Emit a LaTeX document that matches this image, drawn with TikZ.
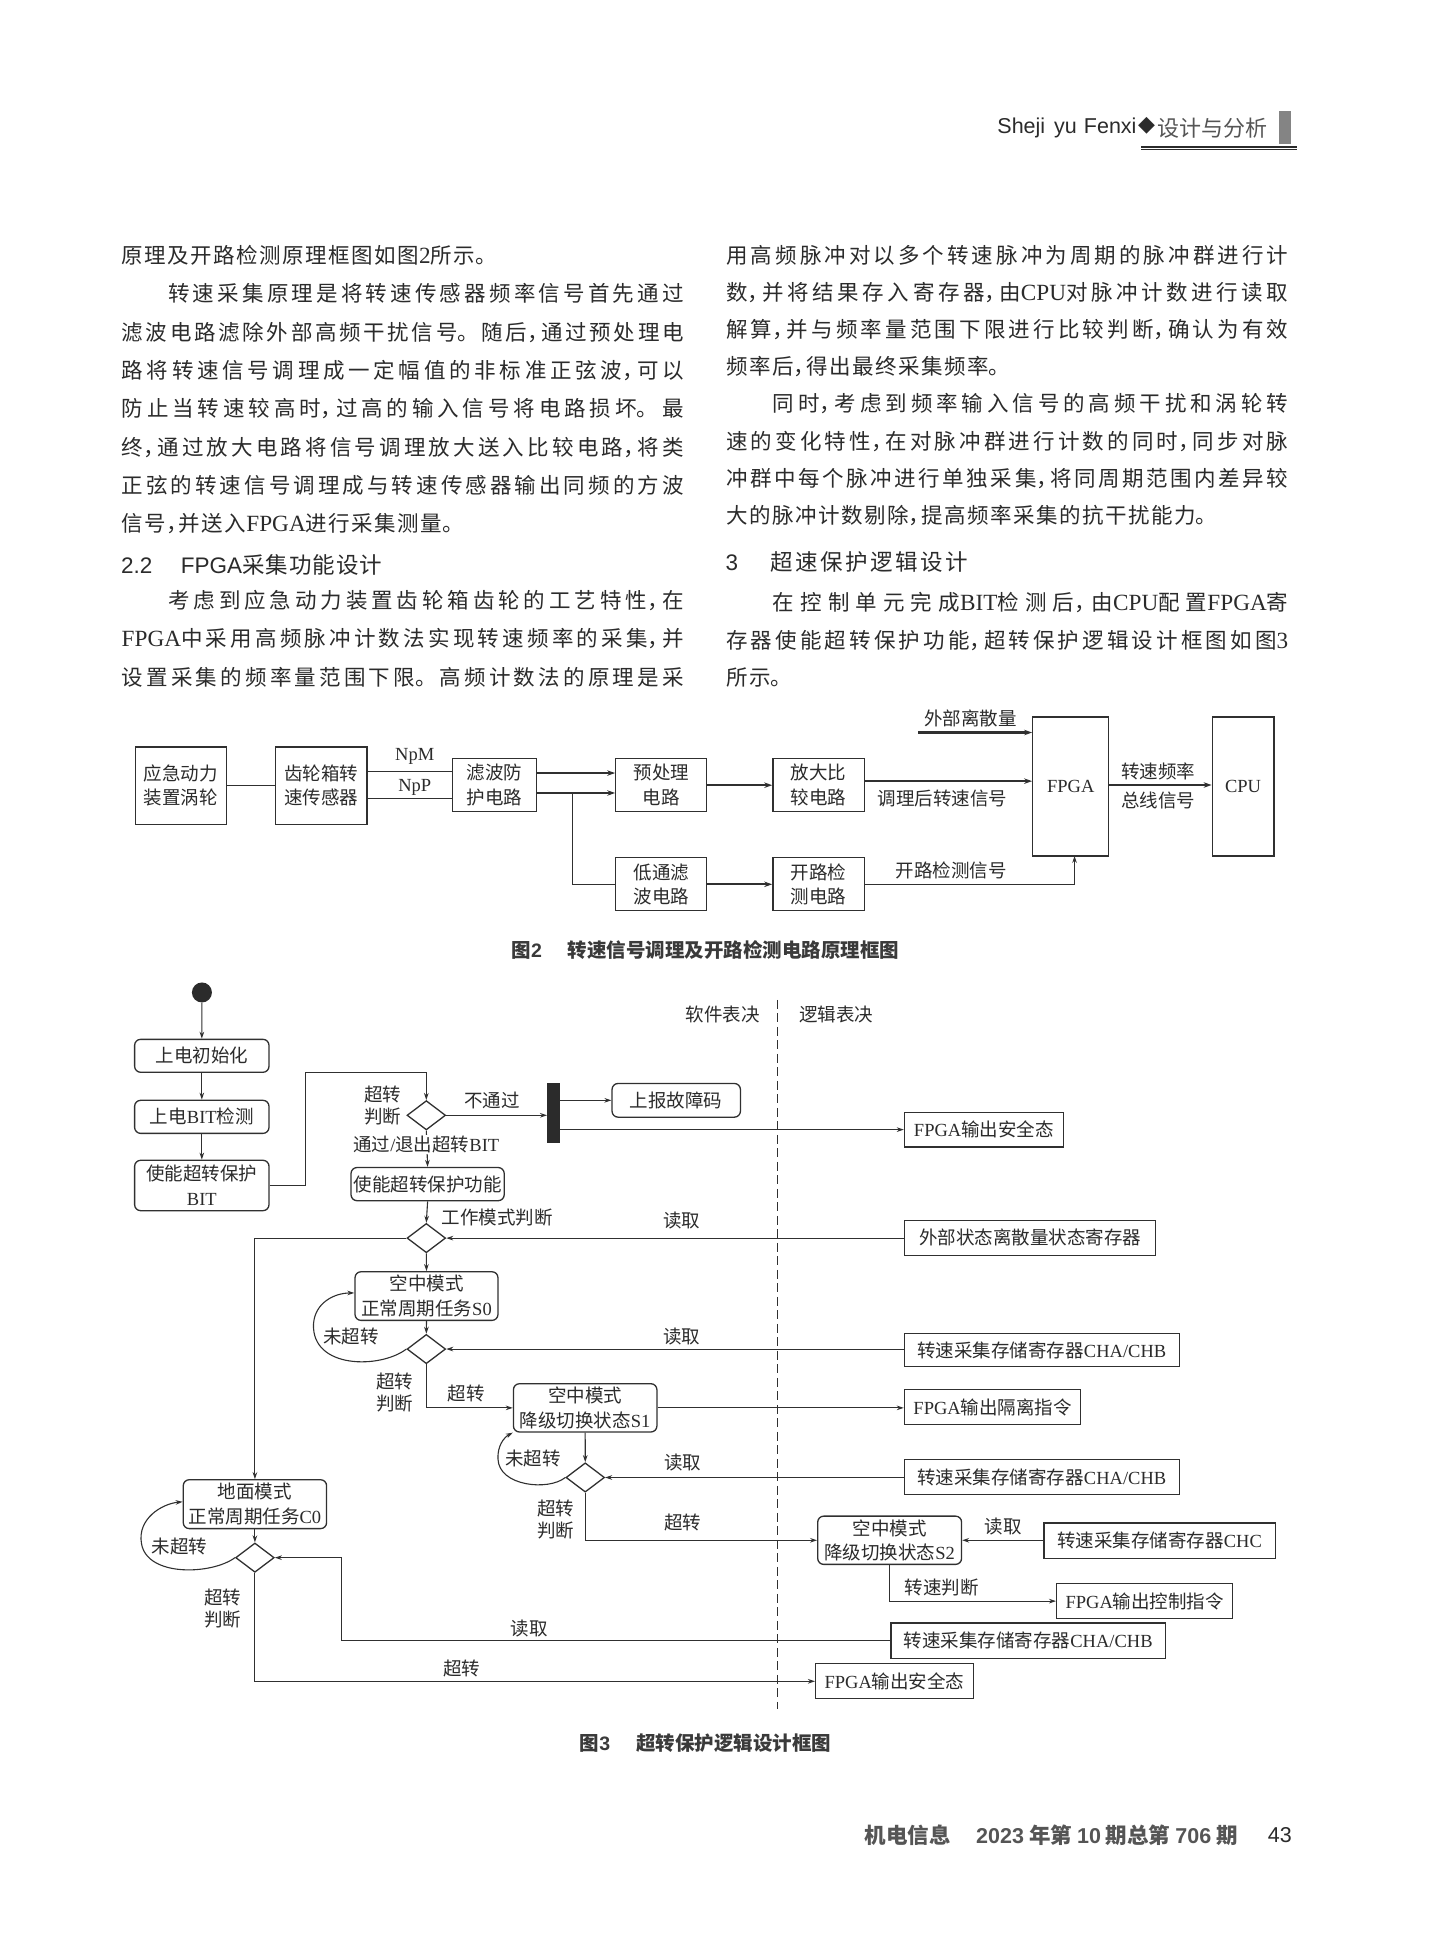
\documentclass[tikz,border=0pt]{standalone}
\usepackage{fontspec}
\setmainfont{Noto Sans CJK SC}
\newfontfamily\tnr{Liberation Serif}
\newfontfamily\tnrb{Liberation Serif}[Scale=1.08]
\newfontfamily\ars{Liberation Sans}
\newfontfamily\djv{DejaVu Sans}
\usetikzlibrary{arrows.meta,shapes.geometric}
\XeTeXlinebreaklocale "zh"
\XeTeXlinebreakskip=0pt\relax
\definecolor{txt}{HTML}{2B2B2B}
\definecolor{lnc}{HTML}{303030}
\definecolor{hdg}{HTML}{555555}
\definecolor{capc}{HTML}{3A3A3A}
\definecolor{barg}{HTML}{848484}

\newcommand\bodyfont{\fontsize{21.5}{26}\selectfont}
\newcommand\cm{\makebox[0.52em][l]{，}\hskip 1.5pt plus 12pt minus 1.5pt\relax}
\newcommand\jline[4]{%
  \node[anchor=base west, inner sep=0pt, text width=562pt, text=txt] (#1) at (#2,#3+6.6)
   {\bodyfont\XeTeXlinebreakskip=1.5pt plus 12pt minus 1.5pt\relax
    \leftskip=0pt\rightskip=0pt minus 20pt\relax\parfillskip=0pt\relax\parindent=0pt
    \tolerance=10000\hbadness=10000\noindent #4\par};}
\newcommand\nline[4]{%
  \node[anchor=base west, inner sep=0pt, text width=562pt, text=txt] (#1) at (#2,#3+6.6)
   {\bodyfont\XeTeXlinebreakskip=1.5pt\relax
    \leftskip=0pt\rightskip=0pt\parfillskip=0pt plus 1fil\relax\parindent=0pt
    \noindent #4\par};}
\newcommand\bx[7][sq]{%
  \node[#1, minimum width={(#5-#3)*1.24652pt}, minimum height={(#6-#4)*1.24681pt}]
    (#2) at ({(#3+#5)/2},{(#4+#6)/2}) {#7};}

\begin{document}
\begin{tikzpicture}[x=1.24652pt,y=-1.24681pt,
  dfont/.style={font=\fontsize{18.5}{24.5}\selectfont},
  sq/.style={draw=lnc, line width=1.3pt, dfont, text=txt, align=center, inner sep=0pt},
  rd/.style={sq, rounded corners=6pt},
  barst/.style={fill=txt, draw=none, inner sep=0pt},
  lab/.style={font=\fontsize{18.5}{22}\selectfont, text=txt, inner sep=1pt, align=center},
  ln1/.style={line width=1.1pt, draw=lnc},
  arr/.style={ln1, -{Stealth[length=7pt,width=4.6pt]}},
  tk/.style={line width=2.3pt, draw=lnc, -{Stealth[length=8pt,width=5.5pt]}},
  dia/.style={diamond, draw=lnc, line width=1.3pt, minimum width=38.6pt, minimum height=29.3pt, inner sep=0pt},
  dsh/.style={line width=1.1pt, draw=lnc, dash pattern=on 9pt off 4.5pt}
]
\fill[white] (0,0) rectangle (1148,1568);
\useasboundingbox (0,0) rectangle (1148,1568);

% ---------- header ----------
\node[anchor=base west, inner sep=0pt, text=txt] (hd1) at (800,107) {\ars\fontsize{21.5}{24}\selectfont Sheji\hspace{9pt}yu\hspace{7pt}Fenxi};
\node[inner sep=0pt, text=txt] (hd2) at (919.8,101) {\djv\fontsize{22}{24}\selectfont ◆};
\node[anchor=west, inner sep=0pt, text=hdg] (hd3) at (928.2,102.5) {\fontsize{22}{24}\selectfont 设计与分析};
\fill[barg] (1026,89) rectangle (1035.6,115.5);
\draw[line width=2.1pt, txt] (915.4,117.6) -- (1040.3,117.6);
\draw[line width=1pt, txt] (915.4,120.2) -- (1040.3,120.2);

% ---------- left column ----------
\nline{L1}{97.5}{204.6}{原理及开路检测原理框图如图{\tnrb 2}所示。}
\jline{L2}{97.5}{235.35}{\hspace*{46.5pt}转速采集原理是将转速传感器频率信号首先通过}
\jline{L3}{97.5}{266.1}{滤波电路滤除外部高频干扰信号。随后\cm 通过预处理电}
\jline{L4}{97.5}{296.85}{路将转速信号调理成一定幅值的非标准正弦波\cm 可以}
\jline{L5}{97.5}{327.6}{防止当转速较高时\cm 过高的输入信号将电路损坏。最}
\jline{L6}{97.5}{358.35}{终\cm 通过放大电路将信号调理放大送入比较电路\cm 将类}
\jline{L7}{97.5}{389.1}{正弦的转速信号调理成与转速传感器输出同频的方波}
\nline{L8}{97.5}{419.85}{信号\cm 并送入{\tnrb FPGA}进行采集测量。}
\node[anchor=base west, inner sep=0pt, text=txt] (h1a) at (97,453.3+6.8) {\ars\fontsize{22.5}{26}\selectfont 2.2};
\node[anchor=base west, inner sep=0pt, text=txt] (h1b) at (145,453.3+6.8) {\fontsize{22.5}{26}\selectfont{\ars FPGA}采\kern1pt 集\kern1pt 功\kern1pt 能\kern1pt 设\kern1pt 计};
\jline{L10}{97.5}{481.3}{\hspace*{46.5pt}考虑到应急动力装置齿轮箱齿轮的工艺特性\cm 在}
\jline{L11}{97.5}{512}{{\tnrb FPGA}中采用高频脉冲计数法实现转速频率的采集\cm 并}
\jline{L12}{97.5}{542.9}{设置采集的频率量范围下限。高频计数法的原理是采}

% ---------- right column ----------
\jline{R1}{582.5}{204.6}{用高频脉冲对以多个转速脉冲为周期的脉冲群进行计}
\jline{R2}{582.5}{234.4}{数\cm 并将结果存入寄存器\cm 由{\tnrb CPU}对脉冲计数进行读取}
\jline{R3}{582.5}{264.2}{解算\cm 并与频率量范围下限进行比较判断\cm 确认为有效}
\nline{R4}{582.5}{294}{频率后\cm 得出最终采集频率。}
\jline{R5}{582.5}{323.8}{\hspace*{46.5pt}同时\cm 考虑到频率输入信号的高频干扰和涡轮转}
\jline{R6}{582.5}{353.6}{速的变化特性\cm 在对脉冲群进行计数的同时\cm 同步对脉}
\jline{R7}{582.5}{383.4}{冲群中每个脉冲进行单独采集\cm 将同周期范围内差异较}
\nline{R8}{582.5}{413.2}{大的脉冲计数剔除\cm 提高频率采集的抗干扰能力。}
\node[anchor=base west, inner sep=0pt, text=txt] (h2a) at (582,450.6+6.8) {\ars\fontsize{22.5}{26}\selectfont 3};
\node[anchor=base west, inner sep=0pt, text=txt] (h2b) at (618,450.6+6.8) {\fontsize{22.5}{26}\selectfont 超\kern2.5pt 速\kern2.5pt 保\kern2.5pt 护\kern2.5pt 逻\kern2.5pt 辑\kern2.5pt 设\kern2.5pt 计};
\jline{R10}{582.5}{483}{\hspace*{46.5pt}在控制单元完成{\tnrb BIT}检测后\cm 由{\tnrb CPU}配置{\tnrb FPGA}寄}
\jline{R11}{582.5}{513.5}{存器使能超转保护功能\cm 超转保护逻辑设计框图如图{\tnrb 3}}
\nline{R12}{582.5}{543.5}{所示。}

% ---------- figure 2 ----------
\bx{b1}{108.5}{599}{181.5}{661}{应急动力\\装置涡轮}
\bx{b2}{221}{599}{294.5}{661}{齿轮箱转\\速传感器}
\bx{b3}{363}{608.5}{430.5}{651}{滤波防\\护电路}
\bx{b4}{494}{608.5}{567}{651}{预处理\\电路}
\bx{b5}{620}{608.5}{693.5}{651}{放大比\\较电路}
\bx{b6}{494}{688}{567}{730.5}{低通滤\\波电路}
\bx{b7}{620}{688}{693.5}{730.5}{开路检\\测电路}
\bx{fpga}{828.5}{575}{889.5}{686.5}{{\tnr FPGA}}
\bx{cpu}{972.5}{575}{1022}{686.5}{{\tnr CPU}}

\draw[ln1] (b1.east) -- (b2.west);
\draw[ln1] (b2.east |- 0,619) -- (b3.west |- 0,619);
\draw[ln1] (b2.east |- 0,640.5) -- (b3.west |- 0,640.5);
\draw[tk] (b3.east |- 0,620) -- (b4.west |- 0,620);
\draw[tk] (b3.east |- 0,636) -- (b4.west |- 0,636);
\coordinate (br) at (459.5,636);
\draw[ln1] (br) |- (b6.west);
\draw[tk] (b4.east) -- (b5.west);
\draw[tk] (b5.east |- 0,626.5) -- (fpga.west |- 0,626.5);
\coordinate (ext) at (736.5,587.5);
\draw[tk] (ext) -- (fpga.west |- ext);
\draw[tk] (fpga.east |- 0,629.6) -- (cpu.west |- 0,629.6);
\draw[tk] (b6.east) -- (b7.west);
\coordinate (fb) at (862,686.5);
\draw[arr] (b7.east) -| (fb);

\node[lab] (npm) at (332.7,607) {\tnr NpM};
\node[lab] (npp) at (332.7,631.6) {\tnr NpP};
\node[lab] (t1) at (756,640.5) {调理后转速信号};
\node[lab] (t2) at (778.5,576.3) {外部离散量};
\node[lab] (t3) at (763,698) {开路检测信号};
\node[lab] (t4) at (929,619) {转速频率};
\node[lab] (t5) at (929,642) {总线信号};
\node[text=capc, inner sep=0pt] (cap2) at (566,762) {\fontsize{19.5}{22}\selectfont\bfseries 图{\ars\bfseries 2}\hspace{26pt}转速信号调理及开路检测电路原理框图};

% ---------- figure 3 ----------
\node[circle, fill=txt, minimum size=20pt, inner sep=0pt] (st) at (162,796) {};
\bx[rd]{n1}{108}{833.6}{215.8}{860}{上电初始化}
\bx[rd]{n2}{108}{882.5}{215.8}{909}{上电{\tnr BIT}检测}
\bx[rd]{n3}{108}{930.6}{215.8}{971}{使能超转保护\\{\tnr BIT}}
\node[dia] (d1) at (342,894.5) {};
\bx[barst]{bar}{439}{869}{449}{917}{}
\bx[rd]{err}{491}{869}{594}{896}{上报故障码}
\bx{safe1}{725.6}{892}{853}{920}{{\tnr FPGA}输出安全态}
\bx[rd]{n4}{281.6}{936.4}{404.5}{963}{使能超转保护功能}
\node[dia] (d2) at (342,993) {};
\bx{reg0}{725.6}{978.7}{927}{1006.8}{外部状态离散量状态寄存器}
\bx[rd]{s0}{284.8}{1020}{399.5}{1059}{空中模式\\正常周期任务{\tnr S0}}
\node[dia] (d3) at (342,1082) {};
\bx{reg1}{725.6}{1069.6}{946}{1096}{转速采集存储寄存器{\tnr CHA/CHB}}
\bx[rd]{s1}{411.9}{1109.8}{527}{1148.5}{空中模式\\降级切换状态{\tnr S1}}
\bx{iso}{725.6}{1114.6}{867}{1142.7}{{\tnr FPGA}输出隔离指令}
\node[dia] (d4) at (469.5,1185) {};
\bx{reg2}{725.6}{1170.5}{946}{1198.6}{转速采集存储寄存器{\tnr CHA/CHB}}
\bx[rd]{s2}{656}{1216}{771.4}{1254.7}{空中模式\\降级切换状态{\tnr S2}}
\bx{chc}{837.6}{1221.6}{1023}{1250}{转速采集存储寄存器{\tnr CHC}}
\bx{ctl}{847.7}{1270}{989}{1298.3}{{\tnr FPGA}输出控制指令}
\bx[rd]{c0}{147}{1186.8}{262}{1226}{地面模式\\正常周期任务{\tnr C0}}
\node[dia] (d5) at (204.5,1249.3) {};
\bx{reg3}{714.8}{1301.8}{935}{1330}{转速采集存储寄存器{\tnr CHA/CHB}}
\bx{safe2}{654.3}{1334.4}{781}{1362.5}{{\tnr FPGA}输出安全态}

\draw[dsh] (623.5,802) -- (623.5,1370.5);

\draw[arr] (st) -- (n1);
\draw[arr] (n1) -- (n2);
\draw[arr] (n2) -- (n3);
\coordinate (c1) at (245.3,860);
\draw[arr] (n3.east) -| (c1) -| (d1.north);
\draw[arr] (d1.east) -- (bar.west |- d1.east);
\draw[arr] (bar.east |- err.west) -- (err.west);
\draw[arr] (bar.east |- safe1.west) -- (safe1.west);
\draw[arr] (d1.south) -- (n4.north);
\node[lab, fill=white] (lpass) at (342,918) {通过{\tnr /}退出超转{\tnr BIT}};
\draw[arr] (n4.south) -- (d2.north);
\draw[arr] (reg0.west |- d2.east) -- (d2.east);
\draw[arr] (d2.west) -| (c0.north);
\draw[arr] (d2.south) -- (s0.north);
\draw[arr] (s0.south) -- (d3.north);
\draw[arr] (d3.west) .. controls (305,1098) and (250,1098) .. (251.5,1062) .. controls (252.5,1045) and (268,1037) .. (s0.west |- 0,1037);
\draw[arr] (reg1.west |- d3.east) -- (d3.east);
\draw[arr] (d3.south) |- (s1.west);
\draw[arr] (s1.east) -- (iso.west |- s1.east);
\draw[arr] (s1.south) -- (d4.north);
\draw[arr] (d4.west) .. controls (440,1196) and (400,1192) .. (399.5,1170) .. controls (399,1160) and (404,1153) .. (s1.south west);
\draw[arr] (reg2.west |- d4.east) -- (d4.east);
\draw[arr] (d4.south) |- (s2.west);
\draw[arr] (chc.west |- s2.east) -- (s2.east);
\draw[arr] (s2.south) |- (ctl.west);
\draw[arr] (c0.south) -- (d5.north);
\draw[arr] (d5.west) .. controls (170,1263) and (118,1265) .. (113.5,1238) .. controls (110,1218) and (130,1206) .. (c0.west |- 0,1204.5);
\coordinate (k5) at (273.9,1249.3);
\draw[arr] (reg3.west) -| (k5) -- (d5.east);
\draw[arr] (d5.south) |- (safe2.west);

\node[lab] (q1) at (307,887) {超转\\判断};
\node[lab] (q2) at (394.5,882.5) {不通过};
\node[lab] (q3) at (399,976.5) {工作模式判断};
\node[lab] (q4) at (547,979) {读取};
\node[lab] (q5) at (281.6,1071.6) {未超转};
\node[lab] (q6) at (547,1072) {读取};
\node[lab] (q7) at (316.7,1117) {超转\\判断};
\node[lab] (q8) at (374,1117.6) {超转};
\node[lab] (q9) at (427.6,1169.7) {未超转};
\node[lab] (q10) at (547.6,1173) {读取};
\node[lab] (q11) at (446,1218.5) {超转\\判断};
\node[lab] (q12) at (547.6,1221) {超转};
\node[lab] (q13) at (804.7,1224) {读取};
\node[lab] (q14) at (755.3,1273) {转速判断};
\node[lab] (q15) at (143.8,1240) {未超转};
\node[lab] (q16) at (178.7,1289.7) {超转\\判断};
\node[lab] (q17) at (424.5,1306) {读取};
\node[lab] (q18) at (370.6,1338) {超转};
\node[lab] (q19) at (580,814) {软件表决};
\node[lab] (q20) at (671,814) {逻辑表决};
\node[text=capc, inner sep=0pt] (cap3) at (566,1398) {\fontsize{19.5}{22}\selectfont\bfseries 图{\ars\bfseries 3}\hspace{26pt}超转保护逻辑设计框图};

% ---------- footer ----------
\node[anchor=west, inner sep=0pt, text=hdg] (ft1) at (693.7,1472) {\fontsize{21.5}{24}\selectfont\bfseries 机电信息};
\node[anchor=west, inner sep=0pt, text=hdg] (ft2) at (783,1472) {\fontsize{21.5}{24}\selectfont\bfseries{\ars\bfseries 2023}\hspace{5pt}年第\hspace{5pt}{\ars\bfseries 10}\hspace{5pt}期总第\hspace{5pt}{\ars\bfseries 706}\hspace{5pt}期};
\node[anchor=west, inner sep=0pt, text=txt] (ft3) at (1017,1472) {\ars\fontsize{21.5}{24}\selectfont 43};
\end{tikzpicture}
\end{document}
